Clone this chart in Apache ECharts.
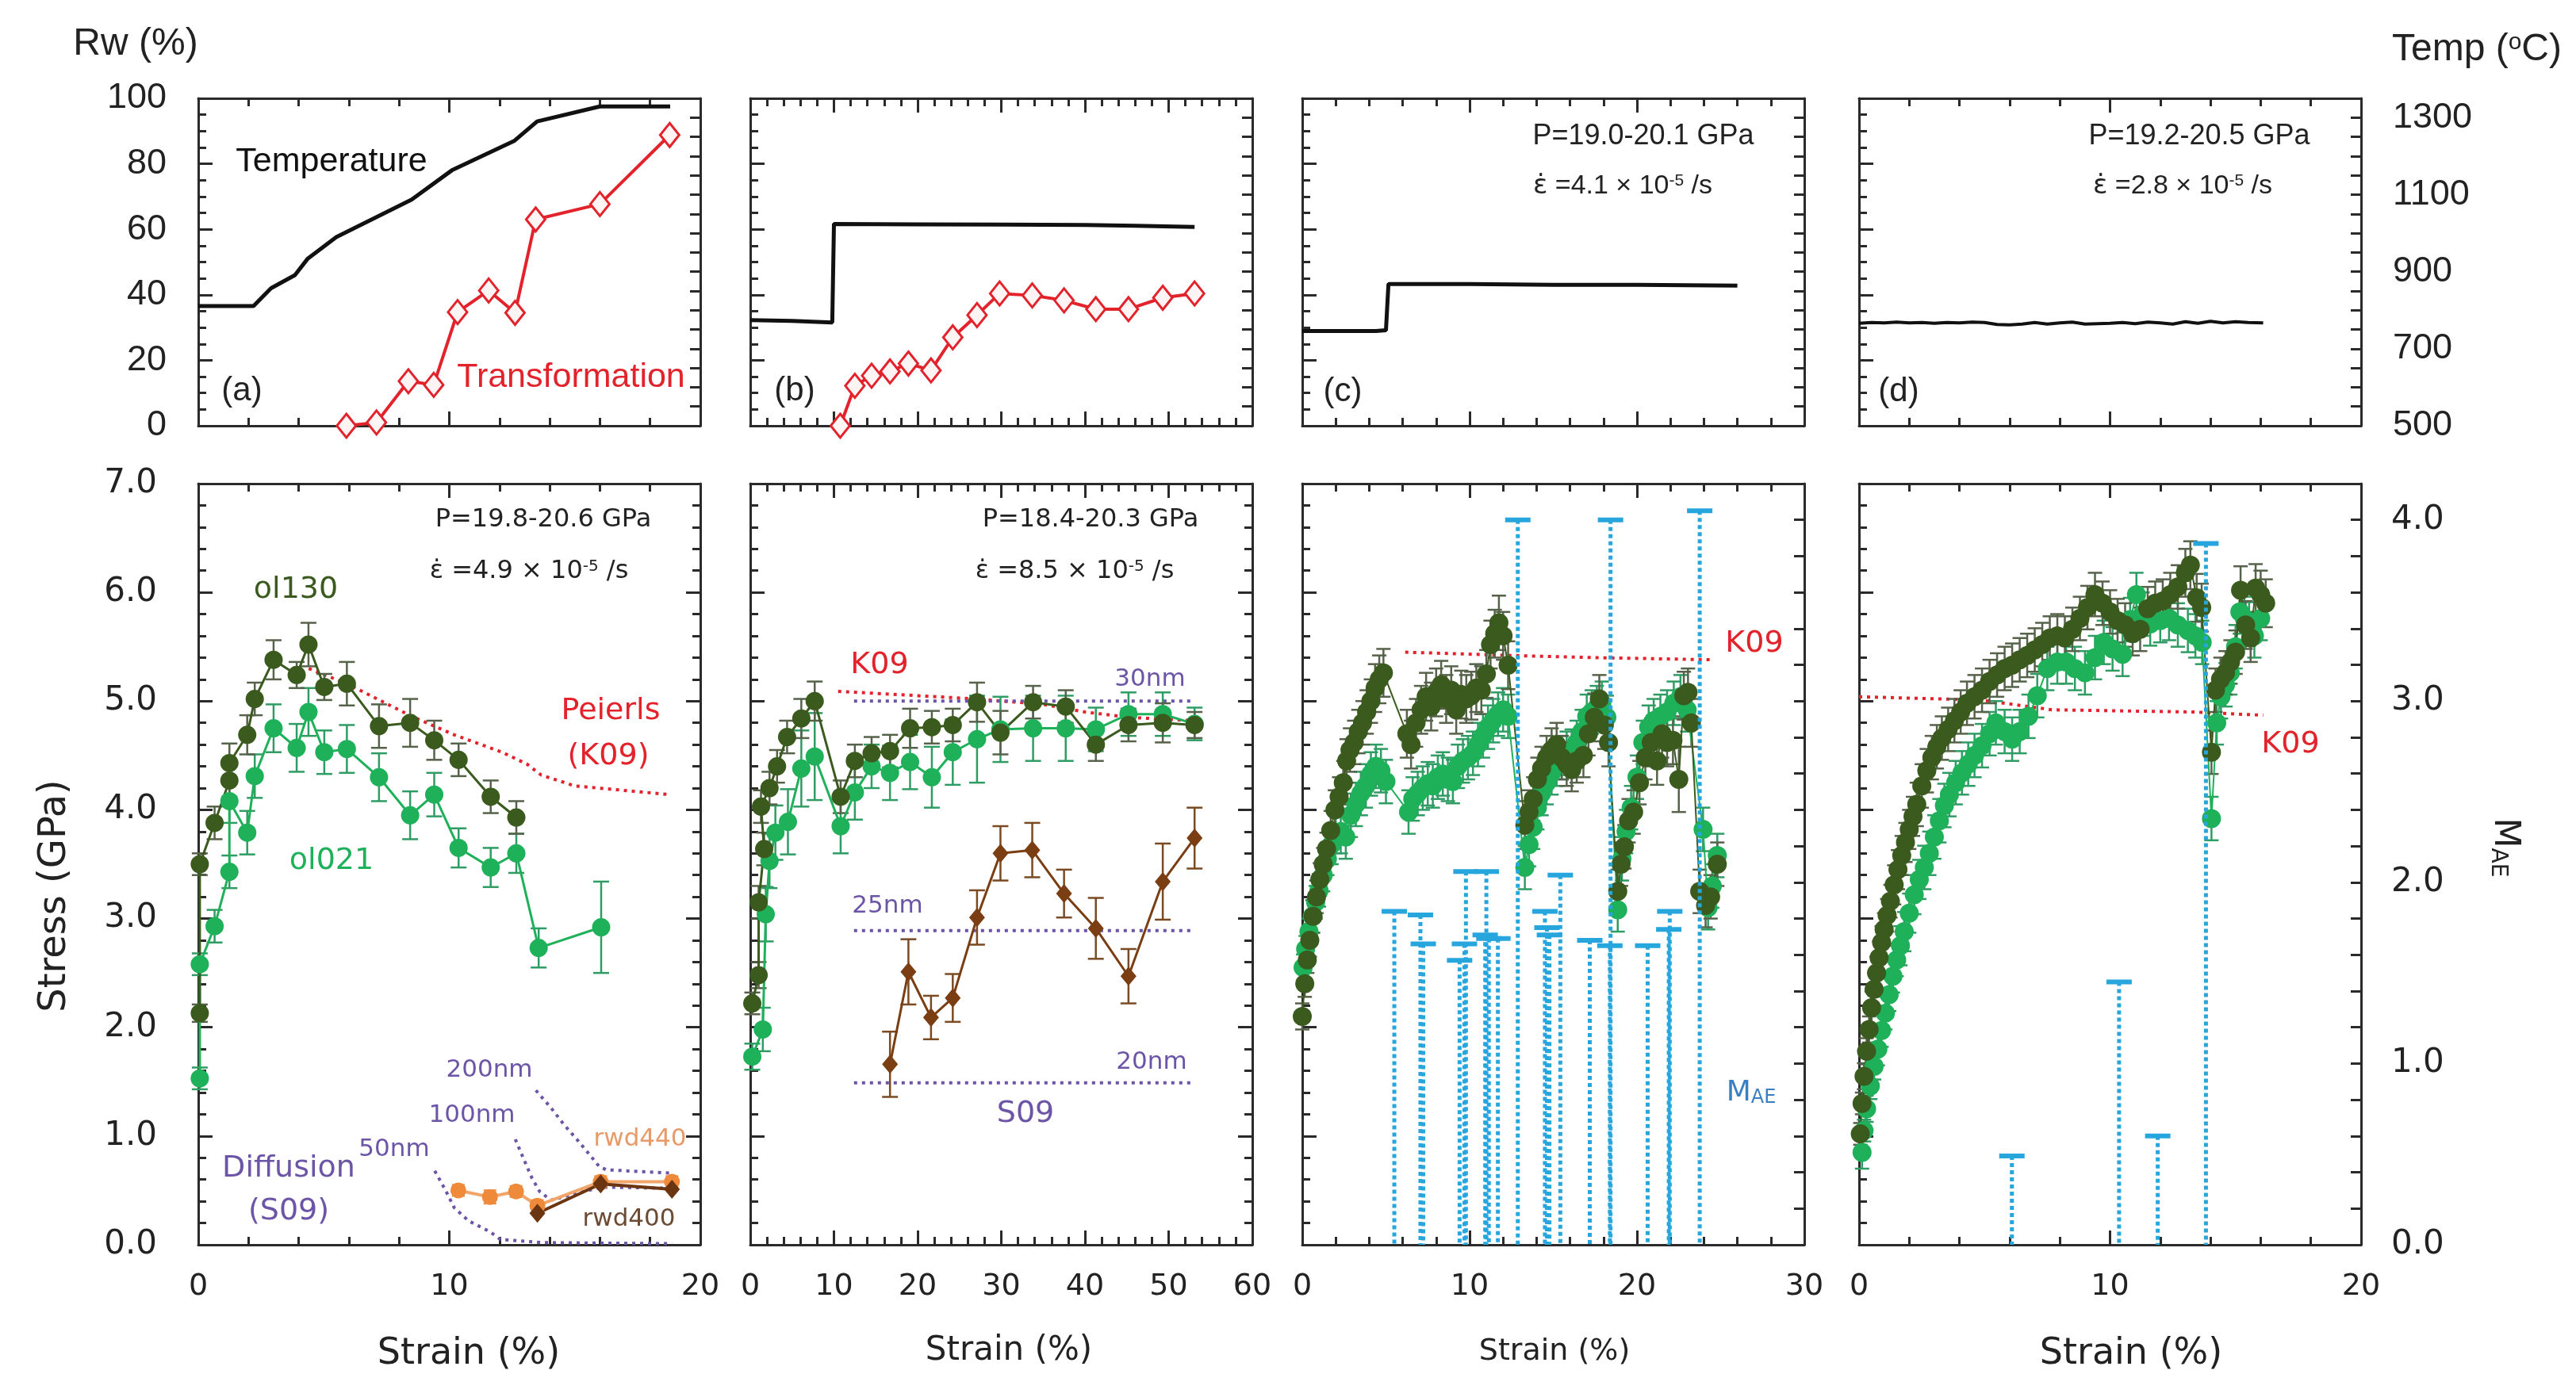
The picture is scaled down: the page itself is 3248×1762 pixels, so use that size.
<!DOCTYPE html>
<html>
<head>
<meta charset="utf-8">
<script src="https://cdn.jsdelivr.net/npm/echarts@6/dist/echarts.min.js"></script>
<style>
  html, body { margin: 0; padding: 0; background: #fff; }
  #chart { width: 3248px; height: 1762px; }
</style>
</head>
<body>
<div id="chart"></div>
<script>
// ---- top row: temperature (°C) and transformation (Rw %) vs strain (%)
const tempA = [[0,811],[2.2,811],[2.9,857],[3.85,891],[4.35,933],[5.5,990],[8.5,1087],[10.1,1163],[12.6,1240],[13.5,1290],[16,1329],[18.8,1329]];
const transA = [[5.9,0],[7.1,1],[8.37,13.6],[9.38,12.5],[10.33,34.7],[11.57,41.3],[12.62,34.5],[13.44,63],[16.0,67.7],[18.78,88.8]];
const tempB = [[0,774],[5,772],[9.8,768],[10.0,1024],[20,1023],[30,1022],[40,1021],[46,1019],[53.1,1016]];
const transB = [[10.75,0],[12.5,12.2],[14.5,15.3],[16.7,16.6],[18.9,19],[21.6,16.9],[24.2,27],[27.1,33.8],[29.8,40.4],[33.7,39.8],[37.5,38.3],[41.3,35.6],[45.2,35.6],[49.3,39.1],[53.1,40.4]];
const tempC = [[0,746],[4.4,746],[5.0,748],[5.15,868],[10,868],[15,866],[20,866],[26,864]];
const tempD = [[0,766],[0.5,768],[1.0,767],[1.5,769],[2.0,767],[2.5,768],[3.0,766],[3.5,768],[4.0,767],[4.5,769],[5.0,768],[5.5,763],[6.0,762],[6.5,764],[7.0,768],[7.5,764],[8.0,767],[8.5,769],[9.0,764],[9.5,765],[10.0,766],[10.5,768],[11.0,765],[11.5,769],[12.0,767],[12.5,764],[13.0,770],[13.5,766],[14.0,771],[14.5,767],[15.0,770],[15.5,768],[16.1,767]];

// ---- bottom row: stress (GPa) [strain, stress, error]
const a130 = [[0.06,2.13,0.08],[0.06,3.50,0.1],[0.65,3.88,0.15],[1.24,4.27,0.15],[1.24,4.43,0.18],[1.95,4.69,0.18],[2.25,5.02,0.15],[3.0,5.38,0.18],[3.92,5.24,0.12],[4.39,5.52,0.2],[5.02,5.13,0.12],[5.92,5.16,0.2],[7.2,4.77,0.2],[8.44,4.80,0.22],[9.4,4.64,0.18],[10.37,4.46,0.15],[11.65,4.12,0.15],[12.67,3.93,0.15]];
const a021 = [[0.06,1.53,0.1],[0.06,2.58,0.1],[0.65,2.93,0.15],[1.24,3.43,0.15],[1.24,4.08,0.2],[1.95,3.79,0.2],[2.25,4.31,0.2],[3.0,4.75,0.22],[3.92,4.57,0.22],[4.39,4.90,0.22],[5.02,4.53,0.2],[5.92,4.56,0.22],[7.2,4.30,0.22],[8.44,3.95,0.22],[9.4,4.14,0.2],[10.37,3.65,0.18],[11.65,3.47,0.18],[12.67,3.60,0.18],[13.56,2.73,0.18],[16.05,2.92,0.42]];
const rwd440 = [[10.36,0.50,0.05],[11.62,0.44,0.06],[12.66,0.49,0.05],[13.51,0.36,0.05],[16.03,0.58,0.05],[18.87,0.58,0.05]];
const rwd400 = [[13.51,0.29],[16.03,0.56],[18.87,0.51]];
const peierlsA = [[4.4,5.30],[5.92,5.16],[8.5,4.86],[10.2,4.69],[12.1,4.53],[13.1,4.42],[13.66,4.32],[15.0,4.22],[18.8,4.14]];
const diff50 = [[9.42,0.68],[9.83,0.51],[10.2,0.34],[10.77,0.22],[11.62,0.12],[12.03,0.05],[13.7,0.02],[18.87,0.01]];
const diff100 = [[12.63,0.97],[12.98,0.78],[13.3,0.61],[13.6,0.49],[14.05,0.41],[16.05,0.53],[18.8,0.52]];
const diff200 = [[13.45,1.42],[14.05,1.26],[14.55,1.11],[15.08,0.97],[15.62,0.82],[15.97,0.72],[16.25,0.69],[18.77,0.66]];

const b130 = [[0.24,2.22,0.1],[1.0,2.48,0.12],[1.0,3.15,0.15],[1.66,3.64,0.15],[1.28,4.03,0.15],[2.3,4.20,0.15],[3.2,4.40,0.15],[4.4,4.67,0.15],[6.1,4.84,0.18],[7.7,5.00,0.18],[10.8,4.12,0.15],[12.5,4.45,0.15],[14.5,4.52,0.15],[16.7,4.54,0.15],[19.1,4.75,0.18],[21.7,4.76,0.15],[24.2,4.78,0.15],[27.1,4.99,0.18],[29.9,4.71,0.2],[33.8,4.99,0.15],[37.7,4.95,0.15],[41.3,4.60,0.15],[45.2,4.78,0.15],[49.3,4.80,0.18],[53.1,4.78,0.12]];
const b021 = [[0.24,1.73,0.12],[1.5,1.98,0.2],[1.85,3.04,0.25],[2.3,3.53,0.25],[3.0,3.79,0.25],[4.5,3.89,0.3],[6.1,4.38,0.35],[7.7,4.49,0.4],[10.8,3.85,0.25],[12.5,4.16,0.25],[14.5,4.40,0.2],[16.7,4.34,0.25],[19.1,4.44,0.25],[21.7,4.30,0.28],[24.2,4.53,0.3],[27.1,4.65,0.4],[29.9,4.74,0.3],[33.8,4.75,0.3],[37.7,4.75,0.3],[41.3,4.74,0.2],[45.2,4.88,0.2],[49.3,4.88,0.2],[53.1,4.79,0.15]];
const bRwd = [[16.7,1.66,0.3],[18.9,2.51,0.3],[21.6,2.09,0.2],[24.2,2.27,0.22],[27.1,3.01,0.25],[29.9,3.60,0.25],[33.7,3.63,0.25],[37.5,3.23,0.22],[41.3,2.91,0.28],[45.2,2.47,0.25],[49.3,3.34,0.35],[53.1,3.74,0.28]];
const k09B = [[10.5,5.09],[20,5.05],[27,5.02],[35,4.97],[40,4.90],[45.3,4.85],[53.1,4.82]];
const grain30 = [[12.4,5.0],[53.1,5.0]];
const grain25 = [[12.4,2.89],[53.1,2.89]];
const grain20 = [[12.4,1.49],[53.1,1.49]];

const c130 = [[0.0,2.10,0.12],[0.15,2.40,0.12],[0.3,2.62,0.12],[0.45,2.80,0.15],[0.65,3.02,0.15],[0.85,3.20,0.15],[1.05,3.36,0.15],[1.25,3.50,0.15],[1.45,3.64,0.15],[1.7,3.81,0.18],[1.95,4.00,0.18],[2.2,4.12,0.18],[2.45,4.25,0.2],[2.65,4.45,0.2],[2.85,4.55,0.2],[3.1,4.62,0.2],[3.35,4.72,0.2],[3.6,4.80,0.2],[3.85,4.90,0.2],[4.1,5.00,0.2],[4.35,5.12,0.22],[4.6,5.20,0.22],[4.85,5.26,0.22],
  [6.25,4.70,0.22],[6.5,4.60,0.22],[6.8,4.80,0.22],[7.1,4.92,0.22],[7.4,5.04,0.22],[7.7,4.95,0.22],[8.0,5.08,0.22],[8.3,5.15,0.22],[8.6,5.02,0.22],[8.9,5.10,0.22],[9.2,4.92,0.22],[9.5,5.06,0.22],[9.8,5.02,0.22],[10.1,5.05,0.22],[10.4,5.12,0.22],[10.7,5.10,0.22],[11.0,5.25,0.22],[11.25,5.52,0.22],[11.5,5.62,0.22],[11.75,5.72,0.25],[12.0,5.60,0.22],[12.3,5.33,0.22],
  [13.3,3.86,0.22],[13.55,3.98,0.2],[13.8,4.10,0.2],[14.05,4.28,0.2],[14.3,4.38,0.2],[14.6,4.48,0.2],[14.9,4.55,0.2],[15.2,4.60,0.2],[15.5,4.48,0.2],[15.8,4.42,0.2],[16.1,4.37,0.2],[16.4,4.45,0.2],[16.8,4.50,0.2],[17.1,4.70,0.2],[17.45,4.85,0.22],[17.75,5.02,0.22],[18.05,4.78,0.22],[18.3,4.62,0.22],
  [18.85,3.25,0.2],[19.05,3.50,0.2],[19.25,3.66,0.2],[19.5,3.90,0.2],[19.8,3.98,0.2],[20.15,4.25,0.2],[20.5,4.48,0.2],[20.85,4.62,0.22],[21.2,4.45,0.22],[21.5,4.70,0.22],[21.8,4.62,0.22],[22.15,4.64,0.22],[22.5,4.28,0.3],[22.8,5.05,0.22],[23.05,5.08,0.22],[23.25,4.80,0.22],
  [23.75,3.25,0.2],[24.1,3.12,0.2],[24.4,3.20,0.2],[24.8,3.50,0.2]];
const c021 = [[0.05,2.55,0.12],[0.2,2.72,0.12],[0.4,2.88,0.12],[0.6,3.02,0.15],[0.8,3.15,0.15],[1.0,3.26,0.15],[1.25,3.40,0.15],[1.5,3.55,0.15],[1.75,3.68,0.18],[2.0,3.78,0.18],[2.3,3.80,0.2],[2.6,3.75,0.2],[2.9,3.95,0.2],[3.2,4.05,0.2],[3.5,4.15,0.2],[3.8,4.22,0.2],[4.1,4.33,0.2],[4.4,4.40,0.2],[4.7,4.36,0.2],[5.0,4.26,0.2],
  [6.35,3.98,0.2],[6.6,4.10,0.2],[6.9,4.15,0.2],[7.2,4.20,0.2],[7.5,4.24,0.2],[7.8,4.22,0.2],[8.1,4.30,0.2],[8.4,4.33,0.2],[8.7,4.28,0.2],[9.0,4.26,0.2],[9.3,4.40,0.2],[9.6,4.45,0.2],[9.9,4.48,0.2],[10.2,4.52,0.2],[10.5,4.60,0.2],[10.8,4.68,0.2],[11.1,4.76,0.2],[11.4,4.82,0.2],[11.7,4.88,0.2],[12.0,4.92,0.2],[12.3,4.86,0.2],
  [13.3,3.47,0.2],[13.55,3.68,0.2],[13.8,3.84,0.2],[14.05,4.02,0.2],[14.3,4.15,0.2],[14.6,4.25,0.2],[14.9,4.34,0.2],[15.2,4.42,0.2],[15.5,4.48,0.2],[15.8,4.52,0.2],[16.1,4.54,0.2],[16.4,4.62,0.2],[16.7,4.72,0.2],[17.0,4.86,0.2],[17.3,4.90,0.2],[17.6,4.94,0.2],[17.9,4.98,0.2],[18.2,4.85,0.2],
  [18.85,3.08,0.2],[19.1,3.55,0.2],[19.35,3.80,0.2],[19.65,4.02,0.2],[20.0,4.30,0.2],[20.35,4.62,0.2],[20.7,4.76,0.2],[21.0,4.82,0.2],[21.4,4.86,0.2],[21.8,4.90,0.2],[22.2,4.98,0.2],[22.6,5.04,0.2],[23.0,4.92,0.2],
  [23.95,3.82,0.2],[24.25,3.10,0.2],[24.5,3.30,0.2],[24.8,3.58,0.2]];
const k09C = [[6.15,5.45],[12.45,5.42],[17.45,5.40],[24.6,5.38]];
// acoustic emission magnitude [strain, M_AE]
const maeC = [[5.5,1.84],[7.06,1.82],[7.23,1.66],[9.4,1.57],[9.69,1.66],[9.78,2.06],[10.93,1.71],[11.0,2.06],[11.15,1.69],[11.69,1.69],[12.88,4.0],[14.5,1.84],[14.62,1.75],[14.77,1.71],[15.42,2.04],[17.18,1.68],[18.38,1.65],[18.42,4.0],[20.64,1.65],[21.9,1.74],[21.96,1.84],[23.75,4.05]];

const d130 = [[0.05,1.02,0.1],[0.12,1.30,0.1],[0.2,1.55,0.12],[0.3,1.78,0.12],[0.4,1.98,0.12],[0.5,2.18,0.15],[0.6,2.35,0.15],[0.7,2.50,0.15],[0.8,2.64,0.15],[0.9,2.78,0.15],[1.0,2.90,0.15],[1.12,3.03,0.15],[1.25,3.16,0.15],[1.4,3.31,0.18],[1.55,3.45,0.18],[1.7,3.58,0.18],[1.85,3.70,0.18],[2.0,3.82,0.18],[2.15,3.94,0.18],[2.3,4.05,0.2],[2.5,4.22,0.2],[2.7,4.36,0.2],[2.9,4.48,0.2],[3.1,4.58,0.2],[3.3,4.66,0.2],[3.55,4.74,0.2],[3.8,4.82,0.2],[4.05,4.90,0.2],[4.3,4.98,0.2],[4.6,5.04,0.2],[4.9,5.10,0.2],[5.2,5.18,0.2],[5.5,5.24,0.2],[5.8,5.30,0.2],[6.1,5.33,0.2],[6.4,5.38,0.2],[6.7,5.42,0.2],[7.0,5.47,0.2],[7.3,5.52,0.2],[7.6,5.58,0.2],[7.9,5.60,0.2],[8.2,5.58,0.2],[8.5,5.66,0.2],[8.8,5.76,0.2],[9.1,5.86,0.2],[9.4,5.98,0.2],[9.7,5.90,0.2],[10.0,5.82,0.2],[10.3,5.74,0.2],[10.6,5.70,0.2],[10.9,5.62,0.2],[11.2,5.66,0.2],[11.5,5.85,0.2],[11.8,5.90,0.2],[12.1,5.92,0.2],[12.4,5.98,0.2],[12.7,6.05,0.2],[13.0,6.18,0.22],[13.2,6.25,0.22],[13.45,5.95,0.22],[13.65,5.86,0.22],
  [14.04,4.53,0.2],[14.2,5.10,0.2],[14.4,5.20,0.2],[14.6,5.26,0.2],[14.8,5.36,0.2],[15.0,5.45,0.2],[15.2,6.02,0.22],[15.4,5.70,0.22],[15.6,5.58,0.22],[15.8,6.04,0.22],[16.0,5.98,0.22],[16.2,5.90,0.22]];
const d021 = [[0.12,0.85,0.15],[0.2,1.05,0.1],[0.3,1.25,0.12],[0.45,1.46,0.12],[0.6,1.64,0.12],[0.75,1.80,0.15],[0.9,1.97,0.15],[1.05,2.13,0.15],[1.2,2.30,0.15],[1.35,2.47,0.15],[1.5,2.62,0.15],[1.65,2.75,0.18],[1.8,2.88,0.18],[2.0,3.05,0.18],[2.2,3.22,0.18],[2.4,3.36,0.18],[2.6,3.47,0.2],[2.8,3.60,0.2],[3.0,3.75,0.2],[3.2,3.90,0.2],[3.4,4.04,0.2],[3.6,4.14,0.2],[3.85,4.25,0.2],[4.1,4.34,0.2],[4.35,4.42,0.2],[4.6,4.50,0.2],[4.9,4.59,0.2],[5.2,4.70,0.2],[5.45,4.80,0.2],[5.8,4.72,0.2],[6.1,4.65,0.2],[6.4,4.72,0.2],[6.75,4.86,0.2],[7.1,5.05,0.2],[7.5,5.30,0.2],[7.9,5.36,0.2],[8.25,5.36,0.2],[8.6,5.30,0.2],[9.0,5.26,0.2],[9.4,5.40,0.2],[9.75,5.54,0.2],[10.1,5.48,0.2],[10.5,5.43,0.2],[10.8,5.75,0.2],[11.05,5.98,0.2],[11.3,5.80,0.2],[11.6,5.71,0.2],[12.0,5.74,0.2],[12.35,5.76,0.2],[12.7,5.70,0.2],[13.1,5.65,0.2],[13.4,5.60,0.2],[13.67,5.54,0.2],
  [14.04,3.92,0.2],[14.25,4.80,0.2],[14.42,5.04,0.2],[14.6,5.15,0.2],[14.79,5.26,0.2],[15.0,5.50,0.2],[15.17,5.82,0.2],[15.35,5.76,0.2],[15.54,5.71,0.2],[15.75,5.60,0.2],[16.0,5.76,0.2]];
const k09D = [[0,5.04],[4.87,5.01],[7.68,4.92],[13.3,4.90],[16.1,4.87]];
const maeD = [[6.09,0.49],[10.36,1.45],[11.9,0.6],[13.82,3.87]];

// ---- layout & styles
const LS = "'Liberation Sans', Arial, sans-serif";
const DV = "'DejaVu Sans', Verdana, sans-serif";
const AX = '#2a2a2a';
const DARK = '#3b5a1e', DARK_ERR = '#56634a';
const BRIGHT = '#1fb05a', BRIGHT_ERR = '#2f9c64';
const RED = '#e3232c', PURPLE = '#6c55a6', CYAN = '#27a6de';
const COLS = [250, 946, 1642, 2344];
const W = 633;

const grids = [];
COLS.forEach(l => grids.push({ left: l, top: 124, width: W, height: 413 }));
COLS.forEach(l => grids.push({ left: l, top: 610, width: W, height: 960 }));

const tickLine = { color: AX, width: 3 };

function xAxes(g, max, showLabel) {
  const base = {
    type: 'value', gridIndex: g, min: 0, max: max, interval: 10,
    axisLine: { show: true, onZero: false, lineStyle: tickLine },
    axisTick: { show: true, inside: true, length: 18, lineStyle: tickLine },
    minorTick: { show: true, splitNumber: 5, length: 10, lineStyle: tickLine },
    splitLine: { show: false }
  };
  return [
    Object.assign({}, base, { position: 'bottom',
      axisLabel: { show: showLabel, fontSize: 38, fontFamily: DV, color: '#222', margin: 34 } }),
    Object.assign({}, base, { position: 'top', axisLabel: { show: false } })
  ];
}

function yAxis(g, pos, spec, showLabel) {
  return {
    type: 'value', gridIndex: g, position: pos,
    min: spec.min, max: spec.max, interval: spec.interval,
    axisLine: { show: true, onZero: false, lineStyle: tickLine },
    axisTick: { show: true, inside: true, length: spec.split ? 18 : 13, lineStyle: tickLine },
    minorTick: { show: !!spec.split, splitNumber: spec.split || 5, length: 10, lineStyle: tickLine },
    splitLine: { show: false },
    axisLabel: { show: showLabel, formatter: spec.fmt, fontSize: spec.fs, fontFamily: spec.font,
      color: '#222', margin: spec.margin }
  };
}

const RW = { min: 0, max: 100, interval: 20, split: 4, fs: 45, font: LS, margin: 40 };
const TEMP = { min: 500, max: 1350, interval: 50, fs: 45, font: LS, margin: 40,
  fmt: v => ((v - 500) % 200 === 0 && v <= 1300) ? String(v) : '' };
const STRESS = { min: 0, max: 7, interval: 1, split: 5, fs: 42, font: DV, margin: 52,
  fmt: v => v.toFixed(1) };
const MAE = { min: 0, max: 4.2, interval: 0.2, fs: 42, font: DV, margin: 38,
  fmt: v => (Math.abs(v - Math.round(v)) < 1e-6 && v <= 4.01) ? v.toFixed(1) : '' };

const xAxis = [], yAxisList = [];
const maxes = [20, 60, 30, 20];
for (let i = 0; i < 4; i++) xAxis.push(...xAxes(i, maxes[i], false));
for (let i = 0; i < 4; i++) xAxis.push(...xAxes(4 + i, maxes[i], true));
for (let i = 0; i < 4; i++) {
  yAxisList.push(yAxis(i, 'left', RW, i === 0));
  yAxisList.push(yAxis(i, 'right', TEMP, i === 3));
}
for (let i = 0; i < 4; i++) {
  yAxisList.push(yAxis(4 + i, 'left', STRESS, i === 0));
  yAxisList.push(yAxis(4 + i, 'right', i < 2 ? STRESS : MAE, i === 3));
}

// ---- series helpers
function line(data, g, yi, color, extra) {
  return Object.assign({
    type: 'line', data: data, xAxisIndex: 2 * g, yAxisIndex: 2 * g + yi,
    lineStyle: { color: color, width: 3 }, itemStyle: { color: color },
    symbol: 'circle', symbolSize: 23, showAllSymbol: true, z: 3, silent: true, animation: false
  }, extra || {});
}
function dotted(data, g, color, width, dash) {
  return line(data, g, 0, color, { symbol: 'none', z: 1,
    lineStyle: { color: color, width: width || 4, type: dash || [4, 6] } });
}
function errBars(data, g, color, w) {
  return {
    type: 'custom', data: data, xAxisIndex: 2 * g, yAxisIndex: 2 * g,
    encode: { x: 0, y: 1 }, z: 2, silent: true, animation: false, clip: false,
    renderItem: function (params, api) {
      const x = api.value(0), y = api.value(1), e = api.value(2);
      const hi = api.coord([x, y + e]), lo = api.coord([x, y - e]);
      const st = { stroke: color, lineWidth: 2.5 };
      return { type: 'group', children: [
        { type: 'line', shape: { x1: hi[0], y1: hi[1], x2: lo[0], y2: lo[1] }, style: st },
        { type: 'line', shape: { x1: hi[0] - w, y1: hi[1], x2: hi[0] + w, y2: hi[1] }, style: st },
        { type: 'line', shape: { x1: lo[0] - w, y1: lo[1], x2: lo[0] + w, y2: lo[1] }, style: st }
      ] };
    }
  };
}
function maeBars(data, g) {
  return {
    type: 'custom', data: data, xAxisIndex: 2 * g, yAxisIndex: 2 * g + 1,
    encode: { x: 0, y: 1 }, z: 6, silent: true, animation: false,
    renderItem: function (params, api) {
      const x = api.value(0), v = api.value(1);
      const top = api.coord([x, v]), bot = api.coord([x, 0]);
      return { type: 'group', children: [
        { type: 'line', shape: { x1: top[0], y1: top[1], x2: bot[0], y2: bot[1] },
          style: { stroke: CYAN, lineWidth: 5, lineDash: [5, 4] } },
        { type: 'line', shape: { x1: top[0] - 16, y1: top[1], x2: top[0] + 16, y2: top[1] },
          style: { stroke: CYAN, lineWidth: 6 } }
      ] };
    }
  };
}

const tempStyle = { symbol: 'none', lineStyle: { color: '#111', width: 5 }, z: 4 };
const transStyle = { symbol: 'diamond', symbolSize: [24, 30], z: 5,
  lineStyle: { color: RED, width: 4 },
  itemStyle: { color: '#fff4f4', borderColor: RED, borderWidth: 3 } };
const denseLine = c => ({ symbolSize: 24, lineStyle: { color: c, width: 2 } });

const series = [
  // top row
  line(tempA, 0, 1, '#111', tempStyle),
  line(transA, 0, 0, RED, transStyle),
  line(tempB, 1, 1, '#111', tempStyle),
  line(transB, 1, 0, RED, transStyle),
  line(tempC, 2, 1, '#111', tempStyle),
  line(tempD, 3, 1, '#111', Object.assign({}, tempStyle, { lineStyle: { color: '#111', width: 4 } })),

  // panel a
  dotted(peierlsA, 4, RED),
  dotted(diff50, 4, PURPLE), dotted(diff100, 4, PURPLE), dotted(diff200, 4, PURPLE),
  errBars(a021, 4, BRIGHT_ERR, 10), line(a021, 4, 0, BRIGHT),
  errBars(a130, 4, DARK_ERR, 10), line(a130, 4, 0, DARK),
  errBars(rwd440, 4, '#e8904a', 8),
  line(rwd440, 4, 0, '#ef8a3a', { symbolSize: 20, lineStyle: { color: '#f2a56a', width: 4 } }),
  line(rwd400, 4, 0, '#6b3512', { symbol: 'diamond', symbolSize: [20, 24], lineStyle: { color: '#6b3512', width: 4 } }),

  // panel b
  dotted(k09B, 5, RED),
  dotted(grain30, 5, PURPLE), dotted(grain25, 5, PURPLE), dotted(grain20, 5, PURPLE),
  errBars(b021, 5, BRIGHT_ERR, 10), line(b021, 5, 0, BRIGHT),
  errBars(b130, 5, DARK_ERR, 10), line(b130, 5, 0, DARK),
  errBars(bRwd, 5, '#7a4a22', 10),
  line(bRwd, 5, 0, '#7a3e12', { symbol: 'diamond', symbolSize: [20, 24] }),

  // panel c
  dotted(k09C, 6, RED),
  errBars(c021, 6, BRIGHT_ERR, 9), line(c021, 6, 0, BRIGHT, denseLine(BRIGHT)),
  errBars(c130, 6, DARK_ERR, 9), line(c130, 6, 0, DARK, denseLine(DARK)),
  maeBars(maeC, 6),

  // panel d
  dotted(k09D, 7, RED),
  errBars(d021, 7, BRIGHT_ERR, 9), line(d021, 7, 0, BRIGHT, denseLine(BRIGHT)),
  errBars(d130, 7, DARK_ERR, 9), line(d130, 7, 0, DARK, denseLine(DARK)),
  maeBars(maeD, 7)
];

// ---- text
function txt(t, x, y, color, size, family, extra) {
  return Object.assign({
    type: 'text', x: x, y: y, z: 100, silent: true,
    style: { text: t, fill: color, fontSize: size, fontFamily: family,
      align: 'center', verticalAlign: 'middle', textAlign: 'center', textVerticalAlign: 'middle' }
  }, extra || {});
}
function richTxt(t, x, y, color, rich, extra) {
  const el = txt(t, x, y, color, 32, DV, extra);
  el.style.rich = rich;
  return el;
}
// strain-rate label: epsilon-dot always in DejaVu so the combining dot sits right
function rateRich(size, family) {
  return {
    e: { fontSize: size, fontFamily: DV, fill: '#222' },
    n: { fontSize: size, fontFamily: family, fill: '#222' },
    s: { fontSize: Math.round(size * 0.62), fontFamily: family, fill: '#222', verticalAlign: 'top' }
  };
}
const rate = v => '{e|ε̇}{n| =' + v + ' × 10}{s|-5}{n| /s}';

const texts = [
  txt('Rw (%)', 171, 56, '#222', 48, LS),
  richTxt('{a|Temp (}{s|o}{a|C)}', 3123, 63, '#222', {
    a: { fontSize: 48, fontFamily: LS, fill: '#222' },
    s: { fontSize: 30, fontFamily: LS, fill: '#222', verticalAlign: 'top' } }),
  txt('Temperature', 418, 204, '#111', 43, LS),
  txt('Transformation', 720, 476, RED, 43, LS),
  txt('(a)', 305, 493, '#222', 42, LS),
  txt('(b)', 1002, 493, '#222', 42, LS),
  txt('(c)', 1693, 494, '#222', 42, LS),
  txt('(d)', 2394, 494, '#222', 42, LS),
  txt('P=19.0-20.1 GPa', 2072, 172, '#222', 36, LS),
  richTxt(rate('4.1'), 2046, 235, '#222', rateRich(34, LS)),
  txt('P=19.2-20.5 GPa', 2773, 172, '#222', 36, LS),
  richTxt(rate('2.8'), 2752, 235, '#222', rateRich(34, LS)),

  txt('Stress (GPa)', 70, 1130, '#222', 48, DV, { rotation: Math.PI / 2 }),
  txt('Strain (%)', 591, 1708, '#222', 46, DV),
  txt('Strain (%)', 1272, 1704, '#222', 42, DV),
  txt('Strain (%)', 1960, 1705, '#222', 38, DV),
  txt('Strain (%)', 2687, 1708, '#222', 46, DV),
  richTxt('{m|M}{s|AE}', 3157, 1069, '#222', {
    m: { fontSize: 44, fontFamily: DV, fill: '#222' },
    s: { fontSize: 28, fontFamily: DV, fill: '#222', verticalAlign: 'bottom' } },
    { rotation: -Math.PI / 2 }),

  txt('P=19.8-20.6 GPa', 685, 656, '#222', 32, DV),
  richTxt(rate('4.9'), 667, 721, '#222', rateRich(32, DV)),
  txt('ol130', 373, 744, DARK, 38, DV),
  txt('ol021', 418, 1086, BRIGHT, 38, DV),
  txt('Peierls', 770, 897, RED, 38, DV),
  txt('(K09)', 767, 954, RED, 38, DV),
  txt('Diffusion', 364, 1474, PURPLE, 38, DV),
  txt('(S09)', 364, 1528, PURPLE, 38, DV),
  txt('50nm', 497, 1450, PURPLE, 31, DV),
  txt('100nm', 595, 1407, PURPLE, 31, DV),
  txt('200nm', 617, 1350, PURPLE, 31, DV),
  txt('rwd440', 807, 1437, '#e89a68', 31, DV),
  txt('rwd400', 793, 1538, '#6b4b33', 31, DV),

  txt('P=18.4-20.3 GPa', 1375, 656, '#222', 32, DV),
  richTxt(rate('8.5'), 1355, 721, '#222', rateRich(32, DV)),
  txt('K09', 1109, 839, RED, 38, DV),
  txt('30nm', 1450, 857, PURPLE, 31, DV),
  txt('25nm', 1119, 1143, PURPLE, 31, DV),
  txt('20nm', 1452, 1340, PURPLE, 31, DV),
  txt('S09', 1293, 1405, PURPLE, 38, DV),

  txt('K09', 2212, 812, RED, 38, DV),
  richTxt('{m|M}{s|AE}', 2208, 1379, '#3a7fc0', {
    m: { fontSize: 36, fontFamily: DV, fill: '#3a7fc0' },
    s: { fontSize: 24, fontFamily: DV, fill: '#3a7fc0', verticalAlign: 'bottom' } }),
  txt('K09', 2888, 939, RED, 38, DV)
];

const chart = echarts.init(document.getElementById('chart'), null, { renderer: 'canvas' });
chart.setOption({
  backgroundColor: '#fff',
  animation: false,
  grid: grids,
  xAxis: xAxis,
  yAxis: yAxisList,
  series: series,
  graphic: { elements: texts }
});
</script>
</body>
</html>
